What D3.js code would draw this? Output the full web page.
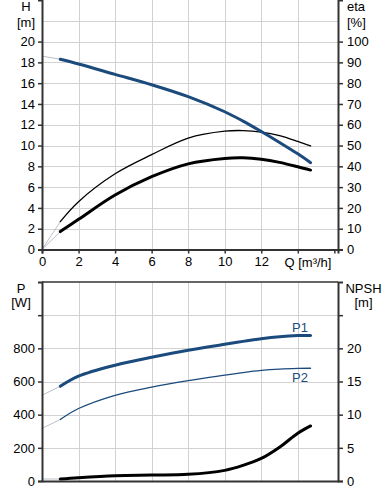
<!DOCTYPE html>
<html>
<head>
<meta charset="utf-8">
<script src="https://cdn.jsdelivr.net/npm/d3@7"></script>
<style>
  body { margin: 0; background: #fff; }
  svg { display: block; font-family: "Liberation Sans", Arial, sans-serif; }
</style>
</head>
<body>
<div id="chart-area"></div>
<script>
// flow points (m3/h) shared by all curves
var flow = [1, 2, 4, 6, 8, 10, 11, 12, 13, 14, 14.7];

// head H [m]
var head = [18.3, 17.85, 16.85, 15.85, 14.7, 13.25, 12.35, 11.35, 10.3, 9.2, 8.35];
var headStart = 18.6;
// efficiency eta [%]
var etaPump = [13.4, 23, 36.4, 45.6, 53.6, 56.9, 57.2, 56.5, 54.8, 52.0, 49.8];
var etaTotal = [8.6, 14.5, 26.2, 35, 41.2, 43.8, 44.1, 43.4, 41.9, 39.8, 38.2];
// power [W]
var p1 = [571, 632, 698, 746, 788, 824, 842, 858, 870, 877, 878];
var p1Start = 517;
var p2 = [371, 437, 517, 566, 605, 638, 654, 667, 675, 679, 680];
var p2Start = 317;
// NPSH [m]
var npsh = [0.3, 0.5, 0.8, 0.9, 1.0, 1.6, 2.35, 3.4, 5.1, 7.2, 8.3];
var npshStart = 0.3;

var qTicks = [0, 2, 4, 6, 8, 10, 12, 14, 16];
var qLabels = ["0", "2", "4", "6", "8", "10", "12", "", ""];
var hTicks = [0, 2, 4, 6, 8, 10, 12, 14, 16, 18, 20];
var etaTicks = [0, 10, 20, 30, 40, 50, 60, 70, 80, 90, 100];
var pTicks = [0, 200, 400, 600, 800, 1000];
var npshTicks = [0, 5, 10, 15, 20, 25];

var blue = "#1b4a7c", axisCol = "#333", gridCol = "#d2d2d2", extCol = "#aab0b8";

var svg = d3.select("#chart-area").append("svg")
    .attr("width", 388)
    .attr("height", 500);

var x = d3.scaleLinear().domain([0, 16.2]).range([42, 338]);

// ---------- top chart ----------
var yH = d3.scaleLinear().domain([0, 24]).range([249.5, 0]);
var yEta = d3.scaleLinear().domain([0, 120]).range([249.5, 0]);

// ---------- bottom chart ----------
var yP = d3.scaleLinear().domain([0, 1200]).range([481, 282]);
var yN = d3.scaleLinear().domain([0, 30]).range([481, 282]);

function grid(yScale, yVals, top, bottom) {
  var g = svg.append("g").attr("stroke", gridCol).attr("stroke-width", 1);
  g.selectAll("line.v").data([2, 4, 6, 8, 10, 12, 14]).enter().append("line")
    .attr("x1", function(d) { return Math.round(x(d)) + 0.5; })
    .attr("x2", function(d) { return Math.round(x(d)) + 0.5; })
    .attr("y1", top).attr("y2", bottom);
  g.selectAll("line.h").data(yVals).enter().append("line")
    .attr("x1", x(0)).attr("x2", x(16.2))
    .attr("y1", function(d) { return Math.round(yScale(d)) + 0.5; })
    .attr("y2", function(d) { return Math.round(yScale(d)) + 0.5; });
}

grid(yH, [2, 4, 6, 8, 10, 12, 14, 16, 18, 20, 22], 0, 249.5);
grid(yP, [200, 400, 600, 800, 1000], 282, 481);

function curve(xs, ys, scaleY, color, width) {
  var pts = xs.map(function(q, i) { return [q, ys[i]]; });
  var line = d3.line()
    .x(function(d) { return x(d[0]); })
    .y(function(d) { return scaleY(d[1]); })
    .curve(d3.curveCatmullRom.alpha(0.5));
  svg.append("path")
    .datum(pts)
    .attr("d", line)
    .attr("fill", "none")
    .attr("stroke", color)
    .attr("stroke-width", width)
    .attr("stroke-linecap", "round");
}

// thin extensions from Q = 0
curve([0, 1], [headStart, head[0]], yH, extCol, 0.8);
curve([0, 1], [0, etaPump[0]], yEta, extCol, 0.8);
curve([0, 1], [0, etaTotal[0]], yEta, extCol, 0.8);
curve([0, 1], [p1Start, p1[0]], yP, extCol, 0.8);
curve([0, 1], [p2Start, p2[0]], yP, extCol, 0.8);
curve([0, 1], [npshStart, npsh[0]], yN, extCol, 0.8);

curve(flow, etaPump, yEta, "#000", 1.3);
curve(flow, etaTotal, yEta, "#000", 3);
curve(flow, head, yH, blue, 3);

curve(flow, p2, yP, blue, 1.3);
curve(flow, p1, yP, blue, 3);
curve(flow, npsh, yN, "#000", 3);

// axes
function axisLeft(scale, vals, labels) {
  svg.append("g")
    .attr("transform", "translate(" + x(0) + ",0)")
    .call(d3.axisLeft(scale).tickValues(vals).tickSize(4).tickPadding(3)
      .tickFormat(function(d, i) { return labels ? labels[i] : d; }));
}
function axisRight(scale, vals, labels) {
  svg.append("g")
    .attr("transform", "translate(" + x(16.2) + ",0)")
    .call(d3.axisRight(scale).tickValues(vals).tickSize(5).tickPadding(4)
      .tickFormat(function(d, i) { return labels ? labels[i] : d; }));
}

axisLeft(yH, hTicks);
axisRight(yEta, etaTicks);
svg.append("g")
  .attr("transform", "translate(0," + yH(0) + ")")
  .call(d3.axisBottom(x).tickValues(qTicks).tickSize(4).tickPadding(3)
    .tickFormat(function(d, i) { return qLabels[i]; }));

axisLeft(yP, pTicks, ["0", "200", "400", "600", "800", ""]);
axisRight(yN, npshTicks, ["0", "5", "10", "15", "20", ""]);
svg.append("g")
  .attr("transform", "translate(0," + yP(0) + ")")
  .call(d3.axisBottom(x).tickValues([]).tickSizeOuter(0));
// top border of bottom chart
svg.append("line")
  .attr("x1", x(0)).attr("x2", x(16.2))
  .attr("y1", yP(1200)).attr("y2", yP(1200))
  .attr("stroke", axisCol).attr("stroke-width", 1.5);

svg.selectAll(".domain").attr("stroke", axisCol).attr("stroke-width", 2);
svg.selectAll(".tick line").attr("stroke", axisCol).attr("stroke-width", 1.5);
svg.selectAll(".tick text").attr("font-size", "13px").attr("fill", "#000")
  .style("font-family", "Liberation Sans, Arial, sans-serif");

// axis titles
function label(tx, ty, txt, anchor, color) {
  svg.append("text")
    .attr("x", tx).attr("y", ty)
    .attr("text-anchor", anchor || "middle")
    .attr("font-size", "13px")
    .attr("fill", color || "#000")
    .text(txt);
}
label(26, 11, "H");
label(26, 27, "[m]");
label(347, 11, "eta", "start");
label(347, 27, "[%]", "start");
label(308, 267, "Q [m\u00b3/h]");
label(21, 293, "P");
label(21, 307, "[W]");
label(363.5, 293, "NPSH");
label(363.5, 307, "[m]");
label(300, 332, "P1", "middle", blue);
label(300, 382, "P2", "middle", blue);
</script>
</body>
</html>
